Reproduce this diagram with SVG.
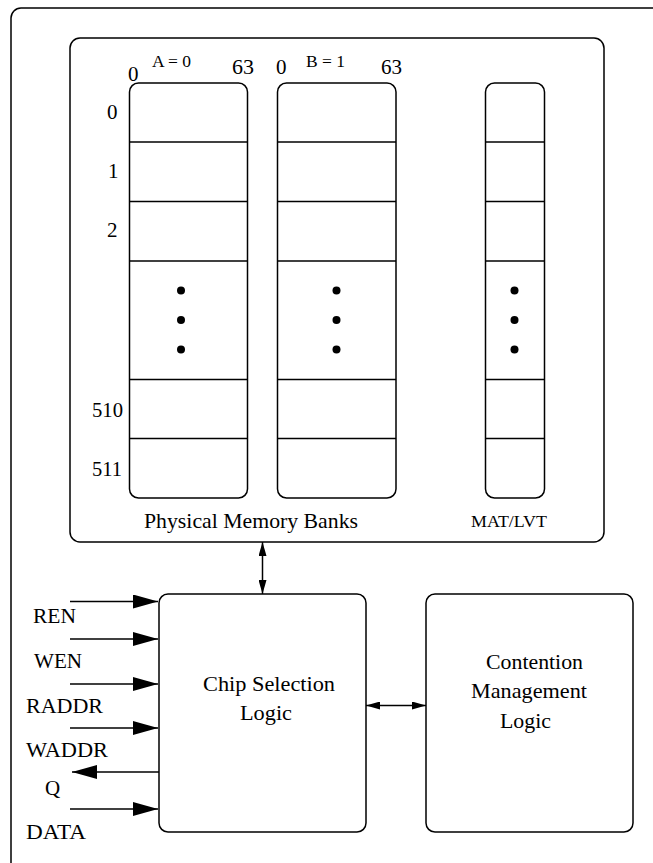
<svg xmlns="http://www.w3.org/2000/svg" width="653" height="863" viewBox="0 0 653 863" font-family="Liberation Serif, Times New Roman, Tinos, serif">
  <style>
    .box { fill: none; stroke: #000; stroke-width: 1.5; }
    .row { stroke: #000; stroke-width: 1.4; }
    .wire { stroke: #000; stroke-width: 1.5; fill: none; }
    text { fill: #000; }
    .lbl { font-size: 21px; }
    .big { font-size: 22px; }
    .sm { font-size: 16px; }
    .xs { font-size: 16.5px; }
  </style>
  <defs>
    <marker id="bigHead" markerUnits="userSpaceOnUse" markerWidth="26" markerHeight="14" refX="25" refY="7" orient="auto">
      <path d="M0,0 L25,7 L0,14 Z" fill="#000"/>
    </marker>
    <marker id="smallHead" markerUnits="userSpaceOnUse" markerWidth="15" markerHeight="8" refX="14" refY="4" orient="auto-start-reverse">
      <path d="M0,0 L14,4 L0,8 Z" fill="#000"/>
    </marker>
    <g id="dots">
      <circle cx="0" cy="0" r="4"/>
      <circle cx="0" cy="29.5" r="4"/>
      <circle cx="0" cy="59" r="4"/>
    </g>
  </defs>

  <!-- enclosing frame -->
  <rect class="box" x="11" y="8" width="670" height="880" rx="10"/>

  <!-- memory banks container -->
  <g id="memory">
    <rect class="box" x="70" y="38" width="534" height="504" rx="10"/>
    <text class="lbl" x="144" y="528" textLength="214" lengthAdjust="spacingAndGlyphs">Physical Memory Banks</text>
    <text class="xs" x="471" y="527" textLength="76" lengthAdjust="spacingAndGlyphs">MAT/LVT</text>
  </g>

  <!-- bank A -->
  <g id="bankA">
    <rect class="box" x="129.5" y="83" width="118" height="415" rx="9"/>
    <line class="row" x1="129.5" y1="142" x2="247.5" y2="142"/>
    <line class="row" x1="129.5" y1="201.5" x2="247.5" y2="201.5"/>
    <line class="row" x1="129.5" y1="261" x2="247.5" y2="261"/>
    <line class="row" x1="129.5" y1="379.5" x2="247.5" y2="379.5"/>
    <line class="row" x1="129.5" y1="438.5" x2="247.5" y2="438.5"/>
    <use href="#dots" x="181" y="290.5"/>
    <text class="lbl" x="128" y="81">0</text>
    <text class="sm" x="152" y="67" textLength="39" lengthAdjust="spacingAndGlyphs">A = 0</text>
    <text class="lbl" x="232" y="74" textLength="22" lengthAdjust="spacingAndGlyphs">63</text>
  </g>

  <!-- bank B -->
  <g id="bankB">
    <rect class="box" x="277.5" y="83" width="118.5" height="415" rx="9"/>
    <line class="row" x1="277.5" y1="142" x2="396" y2="142"/>
    <line class="row" x1="277.5" y1="201.5" x2="396" y2="201.5"/>
    <line class="row" x1="277.5" y1="261" x2="396" y2="261"/>
    <line class="row" x1="277.5" y1="379.5" x2="396" y2="379.5"/>
    <line class="row" x1="277.5" y1="438.5" x2="396" y2="438.5"/>
    <use href="#dots" x="336.5" y="290.5"/>
    <text class="lbl" x="276" y="74">0</text>
    <text class="sm" x="306" y="67" textLength="39" lengthAdjust="spacingAndGlyphs">B = 1</text>
    <text class="lbl" x="381" y="74" textLength="21" lengthAdjust="spacingAndGlyphs">63</text>
  </g>

  <!-- MAT/LVT column -->
  <g id="matlvt">
    <rect class="box" x="485.5" y="83" width="59" height="415" rx="9"/>
    <line class="row" x1="485.5" y1="142" x2="544.5" y2="142"/>
    <line class="row" x1="485.5" y1="201.5" x2="544.5" y2="201.5"/>
    <line class="row" x1="485.5" y1="261" x2="544.5" y2="261"/>
    <line class="row" x1="485.5" y1="379.5" x2="544.5" y2="379.5"/>
    <line class="row" x1="485.5" y1="438.5" x2="544.5" y2="438.5"/>
    <use href="#dots" x="514.5" y="290.5"/>
  </g>

  <!-- row indices -->
  <g id="rowIndex">
    <text class="lbl" x="107" y="119">0</text>
    <text class="lbl" x="108" y="178">1</text>
    <text class="lbl" x="107" y="237">2</text>
    <text class="lbl" x="92" y="417" textLength="31" lengthAdjust="spacingAndGlyphs">510</text>
    <text class="lbl" x="92" y="476" textLength="30" lengthAdjust="spacingAndGlyphs">511</text>
  </g>

  <!-- chip selection logic -->
  <g id="chipSelect">
    <rect class="box" x="159" y="594" width="207" height="238" rx="9"/>
    <text class="big" x="203" y="691" textLength="132" lengthAdjust="spacingAndGlyphs">Chip Selection</text>
    <text class="big" x="240" y="720" textLength="52" lengthAdjust="spacingAndGlyphs">Logic</text>
  </g>

  <!-- contention management logic -->
  <g id="contention">
    <rect class="box" x="426" y="594" width="207" height="238" rx="9"/>
    <text class="big" x="486" y="669" textLength="97" lengthAdjust="spacingAndGlyphs">Contention</text>
    <text class="big" x="471" y="698" textLength="116" lengthAdjust="spacingAndGlyphs">Management</text>
    <text class="big" x="500" y="727.5" textLength="51" lengthAdjust="spacingAndGlyphs">Logic</text>
  </g>

  <!-- port labels -->
  <g id="ports">
    <text class="lbl" x="33" y="623" textLength="43" lengthAdjust="spacingAndGlyphs">REN</text>
    <text class="lbl" x="34" y="668" textLength="48" lengthAdjust="spacingAndGlyphs">WEN</text>
    <text class="lbl" x="26" y="713" textLength="77" lengthAdjust="spacingAndGlyphs">RADDR</text>
    <text class="lbl" x="26" y="757" textLength="82" lengthAdjust="spacingAndGlyphs">WADDR</text>
    <text class="lbl" x="45" y="795">Q</text>
    <text class="lbl" x="26" y="839" textLength="60" lengthAdjust="spacingAndGlyphs">DATA</text>
  </g>

  <!-- connectors -->
  <g id="connectors">
    <line class="wire" x1="262.5" y1="542" x2="262.5" y2="594" marker-start="url(#smallHead)" marker-end="url(#smallHead)"/>
    <line class="wire" x1="366" y1="705.5" x2="426" y2="705.5" marker-start="url(#smallHead)" marker-end="url(#smallHead)"/>
    <line class="wire" x1="70" y1="601.5" x2="158" y2="601.5" marker-end="url(#bigHead)"/>
    <line class="wire" x1="70" y1="639" x2="158" y2="639" marker-end="url(#bigHead)"/>
    <line class="wire" x1="70" y1="684" x2="158" y2="684" marker-end="url(#bigHead)"/>
    <line class="wire" x1="70" y1="728" x2="158" y2="728" marker-end="url(#bigHead)"/>
    <line class="wire" x1="159" y1="772" x2="72" y2="772" marker-end="url(#bigHead)"/>
    <line class="wire" x1="70" y1="809" x2="158" y2="809" marker-end="url(#bigHead)"/>
  </g>
</svg>
